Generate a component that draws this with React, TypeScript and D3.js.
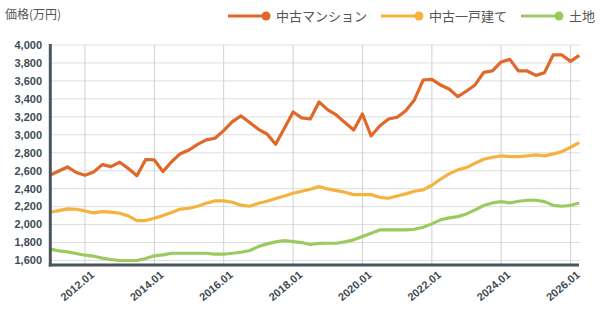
import React, { useEffect, useRef } from "react";
import * as d3 from "d3";

// Quarterly prices (万円), 2011.01 – 2026.04
const mansion = [
  2553, 2597, 2642, 2580, 2550, 2585, 2668, 2645, 2695, 2625,
  2545, 2725, 2720, 2590, 2700, 2790, 2831, 2894, 2943, 2961,
  3047, 3147, 3210, 3136, 3061, 3009, 2894, 3072, 3254, 3188,
  3176, 3366, 3277, 3221, 3136, 3054, 3232, 2987, 3098, 3176,
  3195, 3269, 3388, 3610, 3618, 3555, 3510, 3425, 3488, 3555,
  3696, 3711, 3811, 3840, 3711, 3711, 3662, 3692, 3889, 3889,
  3818, 3885,
];
const house = [
  2138, 2156, 2175, 2171, 2152, 2130, 2145, 2138, 2126, 2097,
  2045, 2045, 2071, 2100, 2134, 2173, 2182, 2204, 2238, 2264,
  2264, 2249, 2216, 2204, 2238, 2260, 2290, 2319, 2349, 2371,
  2394, 2423, 2397, 2379, 2360, 2334, 2334, 2334, 2304, 2293,
  2319, 2342, 2371, 2386, 2438, 2505, 2565, 2609, 2635, 2683,
  2727, 2750, 2765, 2757, 2757, 2765, 2776, 2765, 2787, 2813,
  2861, 2913,
];
const land = [
  1726, 1708, 1696, 1678, 1659, 1648, 1626, 1611, 1600, 1600,
  1600, 1622, 1652, 1663, 1681, 1681, 1681, 1681, 1681, 1670,
  1670, 1681, 1692, 1711, 1755, 1785, 1807, 1822, 1811, 1800,
  1778, 1790, 1792, 1792, 1807, 1830, 1867, 1904, 1941, 1941,
  1941, 1941, 1948, 1971, 2008, 2052, 2075, 2089, 2119, 2164,
  2212, 2241, 2256, 2241, 2260, 2271, 2271, 2256, 2215, 2204,
  2215, 2241,
];

const seriesNames = ["中古マンション", "中古一戸建て", "土地"];
const seriesColors = ["#e0682a", "#f5b23f", "#9bcb5e"];
const yTicks = [1600, 1800, 2000, 2200, 2400, 2600, 2800, 3000, 3200, 3400, 3600, 3800, 4000];
const xTickYears = [2012, 2014, 2016, 2018, 2020, 2022, 2024, 2026];

const JP_FONT = "'Noto Sans CJK JP', 'Noto Sans', sans-serif";
const NUM_FONT = "'Liberation Sans', Arial, sans-serif";

export default function App() {
  const ref = useRef<SVGSVGElement>(null);

  useEffect(() => {
    if (!ref.current) return;
    const svg = d3.select(ref.current);
    svg.selectAll("*").remove();

    const quarters = d3.timeMonth.every(3)!.range(new Date(2011, 0, 1), new Date(2026, 4, 1));
    const series = [mansion, house, land];

    const x = d3
      .scaleTime()
      .domain([new Date(2011, 0, 1), new Date(2026, 0, 1)])
      .range([50.3, 570.6]);
    const y = d3.scaleLinear().domain([1550, 4000]).range([265, 45]);

    const left = 50.3;
    const right = 580;

    // horizontal grid
    svg
      .append("g")
      .selectAll("line")
      .data(yTicks)
      .join("line")
      .attr("x1", left)
      .attr("x2", right)
      .attr("y1", (d) => y(d))
      .attr("y2", (d) => y(d))
      .attr("stroke", "#dedede")
      .attr("stroke-width", 1);

    // vertical grid
    svg
      .append("g")
      .selectAll("line")
      .data(xTickYears)
      .join("line")
      .attr("x1", (d) => x(new Date(d, 0, 1)))
      .attr("x2", (d) => x(new Date(d, 0, 1)))
      .attr("y1", y(4000))
      .attr("y2", y(1550))
      .attr("stroke", "#d0d0d0")
      .attr("stroke-width", 1);

    // lines
    series.forEach((vals, k) => {
      const line = d3
        .line<number>()
        .x((_, i) => x(quarters[i]))
        .y((d) => y(d));
      svg
        .append("path")
        .datum(vals)
        .attr("fill", "none")
        .attr("stroke", seriesColors[k])
        .attr("stroke-width", 3.2)
        .attr("stroke-linejoin", "round")
        .attr("d", line);
    });

    // axes
    svg
      .append("line")
      .attr("x1", left)
      .attr("x2", left)
      .attr("y1", y(4000) - 1)
      .attr("y2", y(1550) + 1.5)
      .attr("stroke", "#4a555c")
      .attr("stroke-width", 3);
    svg
      .append("line")
      .attr("x1", left - 1.5)
      .attr("x2", right - 1)
      .attr("y1", y(1550))
      .attr("y2", y(1550))
      .attr("stroke", "#4a555c")
      .attr("stroke-width", 3);

    // y tick labels
    svg
      .append("g")
      .selectAll("text")
      .data(yTicks)
      .join("text")
      .attr("x", 42)
      .attr("y", (d) => y(d))
      .attr("dy", "0.35em")
      .attr("text-anchor", "end")
      .attr("font-family", NUM_FONT)
      .attr("font-weight", "bold")
      .attr("font-size", 11)
      .attr("fill", "#414b52")
      .text((d) => d3.format(",")(d));

    // x tick labels
    const fmt = d3.timeFormat("%Y.%m");
    svg
      .append("g")
      .selectAll("text")
      .data(xTickYears)
      .join("text")
      .attr("transform", (d) => `translate(${x(new Date(d, 0, 1)) + 10},${276}) rotate(-40)`)
      .attr("text-anchor", "end")
      .attr("font-family", NUM_FONT)
      .attr("font-weight", "bold")
      .attr("font-size", 11)
      .attr("fill", "#414b52")
      .text((d) => fmt(new Date(d, 0, 1)));

    // axis title
    svg
      .append("text")
      .attr("x", 5)
      .attr("y", 19)
      .attr("font-family", JP_FONT)
      .attr("font-size", 12)
      .attr("fill", "#555")
      .text("価格(万円)");

    // legend
    const legendX = [228, 381, 521];
    const legend = svg
      .append("g")
      .selectAll("g")
      .data(seriesNames)
      .join("g")
      .attr("transform", (_, i) => `translate(${legendX[i]},16)`);
    legend
      .append("line")
      .attr("x1", 0)
      .attr("x2", 37)
      .attr("stroke", (_, i) => seriesColors[i])
      .attr("stroke-width", 3);
    legend
      .append("circle")
      .attr("cx", 38)
      .attr("r", 4.5)
      .attr("fill", (_, i) => seriesColors[i]);
    legend
      .append("text")
      .attr("x", 48)
      .attr("dy", "0.36em")
      .attr("font-family", JP_FONT)
      .attr("font-size", 13)
      .attr("fill", "#555")
      .text((d) => d);
  }, []);

  return (
    <svg
      ref={ref}
      width={600}
      height={316}
      style={{ position: "absolute", left: 0, top: 0, background: "#fff" }}
    />
  );
}
